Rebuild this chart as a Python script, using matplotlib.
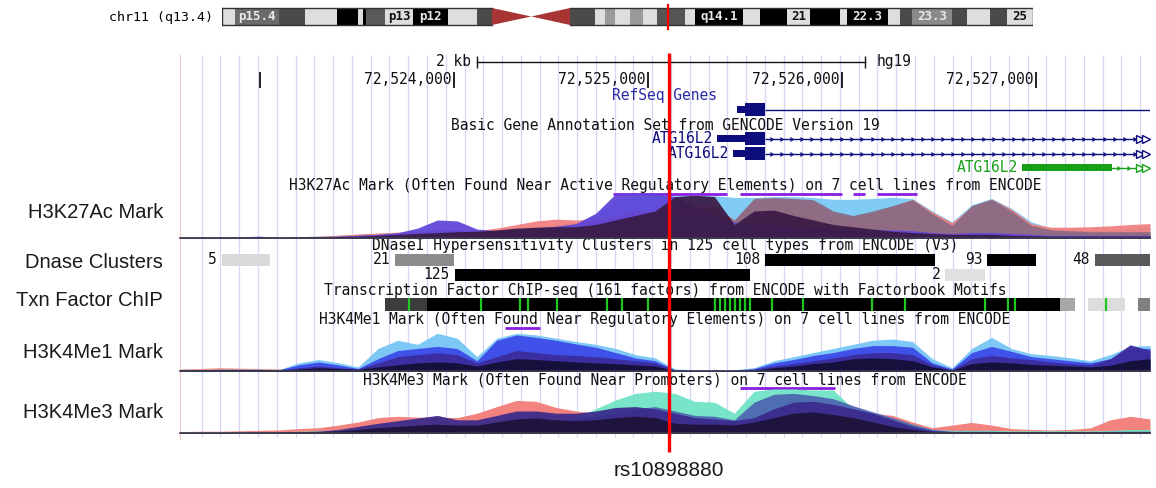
import numpy as np
import matplotlib.pyplot as plt
from matplotlib.patches import Rectangle, Polygon

# ---- chromosome ideogram (chr11, Mb) ----
band_start = [0, 2.1, 9.3, 13.5, 18.7, 22.1, 22.9, 23.4, 26.5, 31.1, 36.7, 41.5,
              56.6, 60.7, 62.3, 63.9, 66.3, 68.5, 70.7, 75.3, 76.9, 84.7, 87.5, 91.9,
              95.6, 100.5, 101.6, 108.3, 110.2, 112.2, 118.7, 121.1, 124.9, 127.6]
band_end = band_start[1:12] + [43.9] + band_start[13:] + [131.9]
band_color = ["#dedede", "#6a6a6a", "#4a4a4a", "#dedede", "#000000", "#dedede", "#000000",
              "#5a5a5a", "#dedede", "#000000", "#dedede", "#4a4a4a",
              "#4a4a4a", "#dedede", "#9a9a9a", "#dedede", "#9a9a9a", "#dedede", "#555555",
              "#dedede", "#000000", "#dedede", "#000000", "#dedede", "#000000", "#dedede",
              "#000000", "#dedede", "#4a4a4a", "#8a8a8a", "#4a4a4a", "#dedede", "#4a4a4a",
              "#dedede"]
band_label = {1: "p15.4", 8: "p13", 9: "p12", 20: "q14.1", 23: "21", 26: "22.3",
              29: "23.3", 33: "25"}
centromere = (43.9, 50.3, 56.6)
chrom_len = 131.9

# ---- browser window (hg19 chr11) ----
win_start, win_end = 72522590, 72527590
snp_pos = 72525110
snp_name = "rs10898880"
ruler_ticks = [72523000, 72524000, 72525000, 72526000, 72527000]
scale_bar = (72524120, 72526120)

# gene models: (utr_start, cds_start, cds_end, tx_end)
refseq_gene = (72525461, 72525502, 72525605, 72527590)
gencode_1 = (72525358, 72525502, 72525605, 72527560)
gencode_2 = (72525440, 72525502, 72525605, 72527560)
gencode_3 = (72526930, 72526930, 72527394, 72527560)

# DNase clusters: (start, end, number of cell types, row)
dnase_start = [72522805, 72523700, 72525605, 72526750, 72527305, 72524005, 72526535]
dnase_end = [72523055, 72524000, 72526480, 72527000, 72527590, 72525530, 72526740]
dnase_score = [5, 21, 108, 93, 48, 125, 2]
dnase_row = [0, 0, 0, 0, 0, 1, 1]

# TF ChIP cluster bar
tf_start = [72523647, 72523863, 72527126, 72527270, 72527528]
tf_end = [72523863, 72527126, 72527204, 72527461, 72527590]
tf_color = ["#3c3c3c", "#000000", "#a8a8a8", "#dcdcdc", "#808080"]
tf_motifs = [72523770, 72524142, 72524343, 72524384, 72524533, 72524791, 72524868,
             72525002, 72525348, 72525374, 72525399, 72525425, 72525451, 72525477,
             72525503, 72525528, 72525642, 72525802, 72526157, 72526327, 72526740,
             72526858, 72526894, 72527364]

# ---- histone signal (percent of track max, 50 samples across window) ----
k27_lightblue = [2, 2, 2, 3, 4, 2, 3, 4, 6, 8, 10, 12, 15, 18, 16, 15, 18, 22, 26, 30,
                 35, 50, 85, 92, 94, 94, 95, 94, 90, 90, 92, 92, 90, 86, 86, 88, 90, 88, 60, 36,
                 74, 88, 66, 36, 22, 20, 17, 17, 22, 24]
k27_salmon = [2, 2, 2, 2, 2, 2, 3, 4, 6, 9, 11, 13, 15, 17, 17, 17, 22, 30, 38, 42,
              40, 42, 50, 60, 65, 70, 72, 72, 40, 84, 88, 86, 80, 52, 46, 56, 70, 86, 58, 34,
              70, 86, 64, 32, 24, 24, 25, 27, 30, 32]
k27_mauve = [1, 1, 1, 1, 1, 1, 2, 3, 4, 6, 8, 10, 12, 14, 14, 14, 16, 18, 22, 26,
             28, 35, 45, 55, 60, 62, 65, 70, 40, 88, 90, 88, 85, 60, 50, 60, 72, 85, 54, 28,
             72, 86, 60, 28, 18, 16, 14, 14, 14, 14]
k27_blue = [1, 1, 1, 2, 4, 1, 2, 3, 4, 6, 8, 12, 22, 40, 38, 20, 16, 18, 22, 26,
            32, 55, 98, 100, 100, 92, 70, 50, 35, 30, 28, 26, 24, 20, 18, 18, 18, 16, 12, 10,
            12, 12, 10, 8, 6, 6, 6, 6, 6, 6]
k27_dark = [1, 1, 1, 1, 1, 1, 1, 2, 3, 4, 6, 8, 10, 12, 14, 15, 18, 22, 24, 25,
            25, 30, 40, 50, 60, 92, 95, 92, 30, 60, 62, 50, 40, 30, 25, 20, 15, 12, 10, 8,
            8, 8, 6, 5, 4, 4, 4, 4, 4, 4]

me1_salmon = [5, 6, 8, 7, 6, 5, 4, 4, 3, 3, 3, 3, 3, 3, 3, 3, 3, 3, 3, 3,
              3, 3, 3, 3, 3, 2, 2, 2, 2, 2, 2, 2, 2, 2, 2, 2, 2, 2, 2, 2,
              2, 2, 2, 2, 2, 2, 2, 2, 2, 2]
me1_lightblue = [3, 3, 4, 4, 4, 3, 20, 28, 20, 10, 55, 75, 65, 92, 80, 35, 80, 92, 88, 80,
                 72, 65, 55, 40, 32, 5, 3, 3, 3, 8, 25, 35, 45, 55, 65, 75, 78, 72, 30, 8,
                 55, 82, 55, 42, 38, 32, 25, 40, 60, 62]
me1_blue = [3, 3, 4, 4, 4, 3, 15, 22, 15, 6, 30, 50, 55, 60, 55, 25, 75, 88, 82, 75,
            66, 58, 45, 32, 25, 3, 2, 2, 2, 6, 20, 28, 38, 45, 55, 62, 62, 58, 20, 5,
            45, 60, 48, 35, 30, 25, 20, 30, 55, 55]
me1_purple = [2, 2, 3, 3, 3, 2, 8, 12, 8, 5, 20, 35, 40, 45, 40, 20, 35, 50, 45, 40,
              38, 35, 30, 25, 20, 2, 1, 1, 1, 4, 12, 18, 25, 32, 40, 45, 45, 40, 15, 3,
              30, 38, 32, 28, 22, 18, 15, 30, 64, 50]
me1_navy = [2, 2, 3, 3, 3, 2, 5, 8, 6, 4, 10, 15, 20, 22, 20, 12, 22, 30, 28, 25,
            22, 20, 18, 15, 12, 1, 1, 1, 1, 2, 8, 12, 18, 22, 30, 32, 30, 25, 10, 2,
            18, 22, 20, 16, 14, 12, 10, 14, 25, 30]

me3_salmon = [3, 4, 4, 5, 6, 7, 10, 12, 18, 25, 35, 38, 36, 36, 35, 45, 60, 74, 72, 58,
              50, 45, 40, 35, 30, 25, 20, 20, 18, 20, 25, 30, 35, 40, 40, 45, 40, 25, 12, 18,
              24, 18, 10, 8, 7, 8, 12, 30, 38, 32]
me3_teal = [2, 2, 2, 2, 3, 3, 4, 5, 6, 8, 10, 12, 12, 14, 14, 15, 20, 25, 28, 30,
            35, 55, 75, 90, 95, 90, 72, 70, 45, 95, 100, 100, 98, 98, 55, 45, 30, 20, 8, 6,
            6, 6, 5, 5, 5, 5, 5, 6, 8, 8]
me3_slate = [1, 1, 1, 1, 2, 2, 3, 4, 5, 6, 8, 10, 12, 14, 14, 15, 20, 25, 28, 30,
             32, 38, 45, 55, 60, 50, 40, 38, 30, 70, 88, 90, 85, 78, 62, 48, 35, 20, 8, 4,
             4, 4, 3, 3, 3, 3, 3, 4, 4, 4]
me3_purple = [1, 1, 1, 2, 2, 2, 3, 4, 8, 15, 22, 28, 34, 40, 30, 30, 40, 50, 50, 45,
              45, 50, 58, 60, 55, 45, 35, 32, 28, 35, 55, 70, 72, 65, 55, 45, 30, 15, 6, 3,
              3, 3, 2, 2, 2, 2, 2, 3, 3, 3]
me3_navy = [1, 1, 1, 1, 1, 1, 2, 3, 5, 8, 12, 15, 18, 20, 18, 18, 25, 32, 34, 30,
            28, 30, 35, 38, 35, 22, 20, 20, 18, 25, 35, 45, 48, 42, 35, 25, 15, 8, 3, 2,
            2, 2, 2, 2, 2, 2, 2, 2, 2, 2]

# purple bars under the track titles
k27_bars = [(72524822, 72525410), (72525477, 72526003), (72526059, 72526121), (72526183, 72526389)]
me1_bars = [(72524265, 72524446)]
me3_bars = [(72525477, 72525967)]

track_names = ["H3K27Ac Mark", "Dnase Clusters", "Txn Factor ChIP", "H3K4Me1 Mark", "H3K4Me3 Mark"]
track_name_y = [213, 263, 300, 352, 413]

W, H = 1156, 488
MONO = "DejaVu Sans Mono"
fig = plt.figure(figsize=(W / 100, H / 100), dpi=100)


def px_axes(x0, y0, x1, y1):
    ax = fig.add_axes([x0 / W, 1 - y1 / H, (x1 - x0) / W, (y1 - y0) / H])
    ax.set_axis_off()
    return ax


# ideogram
ideo = px_axes(222, 4, 1033, 30)
ideo.set_xlim(0, chrom_len)
ideo.set_ylim(30, 4)
for i, (s, e, c) in enumerate(zip(band_start, band_end, band_color)):
    ideo.add_patch(Rectangle((s, 8), e - s, 17, facecolor=c, edgecolor="none"))
    if i in band_label:
        dark = c in ("#000000", "#4a4a4a", "#555555", "#5a5a5a", "#6a6a6a", "#8a8a8a")
        ideo.text((s + e) / 2, 16.8, band_label[i], ha="center", va="center",
                  family=MONO, fontsize=9, weight="bold",
                  color="#e8e8e8" if dark else "#111111")
c0, cm, c1 = centromere
ideo.add_patch(Polygon([(c0, 8), (cm, 16.5), (c0, 25)], closed=True, facecolor="#a83434"))
ideo.add_patch(Polygon([(c1, 8), (cm, 16.5), (c1, 25)], closed=True, facecolor="#a83434"))
ideo.plot([0, c0], [8, 8], color="#333333", lw=1)
ideo.plot([0, c0], [25, 25], color="#333333", lw=1)
ideo.plot([c1, chrom_len], [8, 8], color="#333333", lw=1)
ideo.plot([c1, chrom_len], [25, 25], color="#333333", lw=1)
ideo.plot([0, 0], [8, 25], color="#333333", lw=1)
ideo.plot([chrom_len, chrom_len], [8, 25], color="#333333", lw=1)
ideo.plot([snp_pos / 1e6] * 2, [5, 29], color="red", lw=1.6, clip_on=False)
fig.text(213 / W, 1 - 17 / H, "chr11 (q13.4)", ha="right", va="center", family=MONO, fontsize=9.5)

# main browser panel, y in pixel rows
ax = px_axes(180, 40, 1150, 455)
ax.set_xlim(win_start, win_end)
ax.set_ylim(455, 40)
guides = np.arange(win_start + 112, win_end, 96.75)
ax.vlines(guides, 55, 437, color="#d6d6f4", lw=0.9, zorder=0)
ax.vlines(win_start, 55, 440, color="#f4b8b8", lw=1.2, zorder=0)

txt = dict(family=MONO, fontsize=10.5, color="#111111", va="center")
center = (win_start + win_end) / 2

# ruler
ax.plot(scale_bar, [62, 62], color="#111111", lw=1)
ax.vlines(scale_bar, 56, 68, color="#111111", lw=1)
ax.text(scale_bar[0] - 30, 62, "2 kb", ha="right", **txt)
ax.text(scale_bar[1] + 60, 62, "hg19", ha="left", **txt)
ax.vlines(ruler_ticks, 72, 88, color="#111111", lw=1.3)
for p in ruler_ticks[1:]:
    ax.text(p - 12, 80, f"{p:,}", ha="right", **txt)


def intron_arrows(y, x0, x1, color):
    xs = np.arange(x0 + 40, x1 - 40, 52)
    ax.plot(xs, [y] * len(xs), ls="none", marker=5, ms=2.5, mew=0.6, color=color)
    ax.plot([x1 - 20, x1 + 10], [y, y], ls="none", marker=">", ms=6, mfc="white",
            mec=color, mew=1)


def draw_gene(y, model, color, label=None, arrows=True):
    utr0, cds0, cds1, tx1 = model
    ax.plot([cds1, tx1], [y, y], color=color, lw=1, solid_capstyle="butt")
    if cds0 > utr0:
        ax.add_patch(Rectangle((utr0, y - 3.5), cds0 - utr0, 7, facecolor=color, edgecolor="none"))
    ax.add_patch(Rectangle((cds0, y - 6.5), cds1 - cds0, 13, facecolor=color, edgecolor="none"))
    if arrows:
        intron_arrows(y, cds1, tx1, color)
    if label:
        ax.text(utr0 - 22, y, label, ha="right", family=MONO, fontsize=10.5, va="center",
                color=color)


ax.text(center, 96, "RefSeq Genes", ha="center", family=MONO, fontsize=10.5, va="center",
        color="#2a2aa8")
draw_gene(110, refseq_gene, "#0c0c7c", arrows=False)
ax.text(center, 126, "Basic Gene Annotation Set from GENCODE Version 19", ha="center", **txt)
draw_gene(139, gencode_1, "#0c0c7c", "ATG16L2")
draw_gene(154, gencode_2, "#0c0c7c", "ATG16L2")
g0, g1, g2, g3 = gencode_3
ax.plot([g2, g3], [168, 168], color="#18a018", lw=1)
ax.add_patch(Rectangle((g1, 164.5), g2 - g1, 7, facecolor="#18a018"))
intron_arrows(168, g2, g3, "#18a018")
ax.text(g0 - 22, 168, "ATG16L2", ha="right", family=MONO, fontsize=10.5, va="center",
        color="#18a018")

# track titles
ax.text(center, 186, "H3K27Ac Mark (Often Found Near Active Regulatory Elements) on 7 cell lines from ENCODE",
        ha="center", **txt)
ax.text(center, 246, "DNaseI Hypersensitivity Clusters in 125 cell types from ENCODE (V3)",
        ha="center", **txt)
ax.text(center, 291, "Transcription Factor ChIP-seq (161 factors) from ENCODE with Factorbook Motifs",
        ha="center", **txt)
ax.text(center, 320, "H3K4Me1 Mark (Often Found Near Regulatory Elements) on 7 cell lines from ENCODE",
        ha="center", **txt)
ax.text(center, 380, "H3K4Me3 Mark (Often Found Near Promoters) on 7 cell lines from ENCODE",
        ha="center", **txt)

for bars, y in ((k27_bars, 194), (me1_bars, 328), (me3_bars, 388.5)):
    for s, e in bars:
        ax.plot([s, e], [y, y], color="#8a1ee0", lw=2, solid_capstyle="butt")

# DNase clusters, shaded by number of cell types
for s, e, sc, r in zip(dnase_start, dnase_end, dnase_score, dnase_row):
    g = np.interp(sc, [0, 5, 21, 48, 90], [0.9, 0.85, 0.55, 0.35, 0.0])
    y = 260 + 15 * r
    ax.add_patch(Rectangle((s, y - 6), e - s, 12, facecolor=(g, g, g), edgecolor="none"))
    ax.text(s - 25, y, str(sc), ha="right", **txt)

# TF ChIP cluster bar with motif ticks
for s, e, c in zip(tf_start, tf_end, tf_color):
    ax.add_patch(Rectangle((s, 298.5), e - s, 13, facecolor=c, edgecolor="none"))
ax.vlines(tf_motifs, 298.5, 311.5, color="#1ec81e", lw=1.6)

# signal tracks
pos = np.linspace(win_start, win_end, 50)


def signal_track(y0, y1, layers):
    t = px_axes(180, y0, 1150, y1)
    t.set_xlim(win_start, win_end)
    t.set_ylim(0, 100)
    for vals, color in layers:
        t.fill_between(pos, 0, vals, color=color, alpha=0.93, lw=0)
    t.axhline(0, color="#3a3a4a", lw=1.2, clip_on=False)
    return t


signal_track(193, 238, [(k27_lightblue, "#78c8f4"), (k27_salmon, "#f07e7e"),
                        (k27_mauve, "#8a6a84"), (k27_blue, "#5e44d8"), (k27_dark, "#3a1a46")])
signal_track(330, 371, [(me1_salmon, "#e88a7c"), (me1_lightblue, "#74c4f6"),
                        (me1_blue, "#3c48e8"), (me1_purple, "#3a2c9c"), (me1_navy, "#140e34")])
signal_track(389, 433, [(me3_salmon, "#f27a74"), (me3_teal, "#6ee4c4"),
                        (me3_slate, "#4c64b0"), (me3_purple, "#3a2a8c"), (me3_navy, "#1c1238")])

# SNP marker on top of everything
top = px_axes(180, 40, 1150, 455)
top.set_xlim(win_start, win_end)
top.set_ylim(455, 40)
top.vlines(snp_pos, 53, 452, color="#ff0000", lw=2.4)

for name, y in zip(track_names, track_name_y):
    fig.text(163 / W, 1 - y / H, name, ha="right", va="center", family="Liberation Sans",
             fontsize=14.5, color="#1a1a1a")
fig.text(669 / W, 1 - 470 / H, snp_name, ha="center", va="center", family="Liberation Sans",
         fontsize=15, color="#1a1a1a")

fig.savefig("out.png", dpi=100, facecolor="white")
